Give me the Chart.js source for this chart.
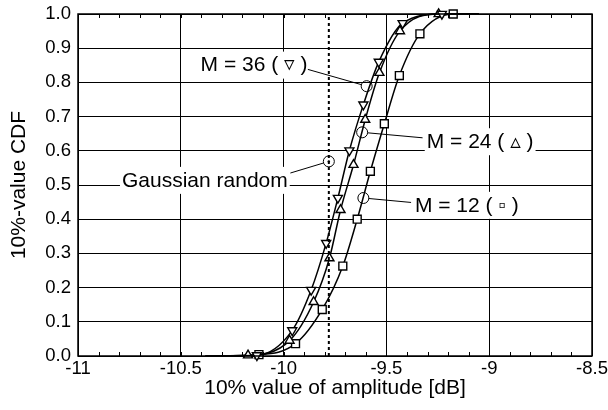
<!DOCTYPE html>
<html>
<head>
<meta charset="utf-8">
<script src="https://cdn.jsdelivr.net/npm/chart.js@4.4.1/dist/chart.umd.min.js"></script>
<style>
  body { margin: 0; background: #fff; }
  canvas { display: block; }
</style>
</head>
<body>
<canvas id="cdf" width="608" height="410"></canvas>
<script>
// axis ticks
const xTicks = [-11, -10.5, -10, -9.5, -9, -8.5];
const yTicks = [0, 0.1, 0.2, 0.3, 0.4, 0.5, 0.6, 0.7, 0.8, 0.9, 1.0];

// M = 12 (squares)
const m12X = [-10.120, -9.942, -9.812, -9.712, -9.642, -9.578, -9.510, -9.437, -9.337, -9.175];
const m12Y = [0.004, 0.036, 0.136, 0.263, 0.400, 0.540, 0.679, 0.820, 0.942, 1.0];

// M = 24 (triangles up)
const m24X = [-10.173, -9.971, -9.854, -9.777, -9.723, -9.660, -9.603, -9.534, -9.434, -9.246];
const m24Y = [0.002, 0.045, 0.158, 0.286, 0.427, 0.559, 0.691, 0.828, 0.950, 1.0];

// M = 36 (triangles down)
const m36X = [-10.130, -9.958, -9.866, -9.793, -9.736, -9.680, -9.612, -9.537, -9.421, -9.230];
const m36Y = [0.002, 0.075, 0.193, 0.330, 0.462, 0.601, 0.735, 0.860, 0.973, 1.0];

// where the fitted curves run flat
const curveStart = -10.38;
const curveEnd = -9.05;

// Gaussian random value (dotted line)
const gaussX = -9.78;

// callouts: text, circle on curve, end of leader at the text, text centre (data units)
const notes = [
  { text: 'M = 36 ( \u25BF )', at: [-9.596, 0.789], lead: [-9.882, 0.838], pos: [-10.144, 0.852], dot: false },
  { text: 'Gaussian random', at: [gaussX, 0.569], lead: [-9.967, 0.535], pos: [-10.383, 0.515], dot: true },
  { text: 'M = 24 ( \u25B5 )', at: [-9.618, 0.654], lead: [-9.324, 0.638], pos: [-9.044, 0.628], dot: false },
  { text: 'M = 12 ( \u25AB )', at: [-9.612, 0.462], lead: [-9.380, 0.449], pos: [-9.109, 0.442], dot: false }
];

const FONT = '"Liberation Sans", Arial, Helvetica, "DejaVu Sans", sans-serif';
Chart.defaults.color = '#000';
Chart.defaults.font.family = FONT;

function curve(xs, ys) {
  const pts = [{ x: curveStart, y: 0 }];
  xs.forEach((x, i) => pts.push({ x: x, y: ys[i] }));
  pts.push({ x: curveEnd, y: 1 });
  return pts;
}

function series(xs, ys, style, rot, r) {
  const n = xs.length + 1;
  return {
    data: curve(xs, ys),
    showLine: true,
    borderColor: '#000',
    borderWidth: 1.5,
    backgroundColor: '#fff',
    pointBackgroundColor: '#fff',
    pointBorderColor: '#000',
    pointBorderWidth: 1.4,
    pointStyle: style,
    rotation: rot,
    pointRadius: c => (c.dataIndex === 0 || c.dataIndex === n) ? 0 : r,
    cubicInterpolationMode: 'monotone',
    clip: false
  };
}

const overlay = {
  id: 'overlay',
  afterDatasetsDraw(chart) {
    const { ctx, chartArea: a, scales: { x, y } } = chart;
    ctx.save();
    ctx.strokeStyle = '#000';

    // minor ticks on top and bottom
    ctx.lineWidth = 1;
    ctx.beginPath();
    for (let i = 0; i <= 25; i++) {
      const px = Math.round(x.getPixelForValue(-11 + i * 0.1)) + 0.5;
      ctx.moveTo(px, a.top); ctx.lineTo(px, a.top + 4);
      ctx.moveTo(px, a.bottom); ctx.lineTo(px, a.bottom - 4);
    }
    ctx.stroke();

    // frame
    ctx.lineWidth = 1.5;
    ctx.strokeRect(a.left, a.top, a.width, a.height);

    // callouts
    ctx.font = '21px ' + FONT;
    ctx.textAlign = 'center';
    ctx.textBaseline = 'middle';
    notes.forEach(nt => {
      const tx = x.getPixelForValue(nt.pos[0]);
      const ty = y.getPixelForValue(nt.pos[1]);
      const w = ctx.measureText(nt.text).width;
      ctx.fillStyle = '#fff';
      ctx.fillRect(tx - w / 2 - 2, ty - 13, w + 4, 27);
      ctx.fillStyle = '#000';
      ctx.fillText(nt.text, tx, ty + 1);

      const cx = x.getPixelForValue(nt.at[0]);
      const cy = y.getPixelForValue(nt.at[1]);
      const lx = x.getPixelForValue(nt.lead[0]);
      const ly = y.getPixelForValue(nt.lead[1]);
      const d = Math.hypot(lx - cx, ly - cy);
      const r = 5.5;
      ctx.lineWidth = 1;
      ctx.beginPath();
      ctx.moveTo(lx, ly);
      ctx.lineTo(cx + (lx - cx) * r / d, cy + (ly - cy) * r / d);
      ctx.stroke();
      ctx.beginPath();
      ctx.arc(cx, cy, r, 0, Math.PI * 2);
      ctx.stroke();
      if (nt.dot) {
        ctx.beginPath();
        ctx.arc(cx, cy, 1.2, 0, Math.PI * 2);
        ctx.fill();
      }
    });
    ctx.restore();
  }
};

const config = {
  type: 'scatter',
  data: {
    datasets: [
      {
        data: [{ x: gaussX, y: 0 }, { x: gaussX, y: 1 }],
        showLine: true,
        borderColor: '#000',
        borderWidth: 2,
        borderDash: [3, 3],
        pointRadius: 0
      },
      series(m36X, m36Y, 'triangle', 180, 5.2),
      series(m24X, m24Y, 'triangle', 0, 5.2),
      series(m12X, m12Y, 'rect', 0, 5.6)
    ]
  },
  options: {
    responsive: false,
    animation: false,
    layout: { padding: { top: 14, right: 16, left: 0, bottom: 0 }, autoPadding: false },
    plugins: { legend: { display: false }, tooltip: { enabled: false } },
    scales: {
      x: {
        type: 'linear',
        min: -11,
        max: -8.5,
        afterBuildTicks: s => { s.ticks = xTicks.map(v => ({ value: v })); },
        afterFit: s => { s.height = 54; s.paddingLeft = 0; s.paddingRight = 0; },
        ticks: { callback: v => String(v), font: { size: 18.5 }, padding: 2, maxRotation: 0, autoSkip: false },
        grid: { color: '#000', lineWidth: 1, drawTicks: false },
        border: { display: false },
        title: { display: true, text: '10% value of amplitude [dB]', font: { size: 21 }, padding: { top: 0, bottom: 9 } }
      },
      y: {
        min: 0,
        max: 1,
        afterBuildTicks: s => { s.ticks = yTicks.map(v => ({ value: v })); },
        afterFit: s => { s.width = 78; s.paddingTop = 0; s.paddingBottom = 0; },
        ticks: { callback: v => v.toFixed(1), font: { size: 18.5 }, padding: 7, autoSkip: false },
        grid: { color: '#000', lineWidth: 1, drawTicks: false },
        border: { display: false },
        title: { display: true, text: '10%-value CDF', font: { size: 21 }, padding: { top: 7, bottom: 0 } }
      }
    }
  },
  plugins: [overlay]
};

var chart = new Chart(document.getElementById('cdf'), config);
</script>
</body>
</html>
